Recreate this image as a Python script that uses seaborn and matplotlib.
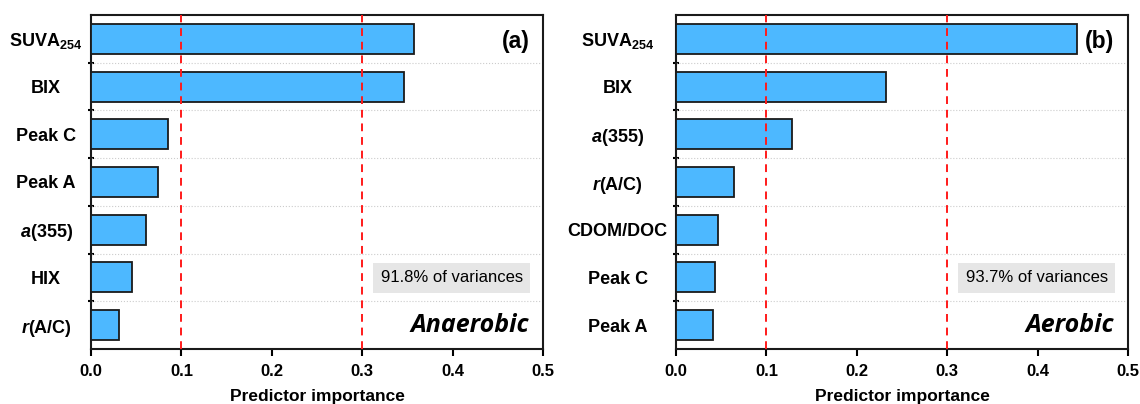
import matplotlib
matplotlib.use("Agg")
import matplotlib.pyplot as plt
import pandas as pd
import seaborn as sns

# panel (a) - anaerobic
labels_a = [r'SUVA$_{254}$', 'BIX', 'Peak C', 'Peak A', r'$\mathit{a}$(355)', 'HIX', r'$\mathit{r}$(A/C)']
values_a = [0.357, 0.346, 0.085, 0.074, 0.061, 0.045, 0.031]

# panel (b) - aerobic
labels_b = [r'SUVA$_{254}$', 'BIX', r'$\mathit{a}$(355)', r'$\mathit{r}$(A/C)', 'CDOM/DOC', 'Peak C', 'Peak A']
values_b = [0.444, 0.232, 0.128, 0.064, 0.046, 0.043, 0.041]

panels = [
    ('(a)', 'Anaerobic', '91.8% of variances', labels_a, values_a),
    ('(b)', 'Aerobic', '93.7% of variances', labels_b, values_b),
]
xticks = [0.0, 0.1, 0.2, 0.3, 0.4, 0.5]
cutoffs = [0.1, 0.3]

sns.set_theme(style="ticks")
plt.rcParams['font.family'] = ['Liberation Sans', 'DejaVu Sans']
plt.rcParams['mathtext.fontset'] = 'custom'
plt.rcParams['mathtext.rm'] = 'Liberation Sans:bold'
plt.rcParams['mathtext.it'] = 'Liberation Sans:italic:bold'
plt.rcParams['mathtext.bf'] = 'Liberation Sans:bold'
for k in ['text.color', 'axes.labelcolor', 'xtick.color', 'ytick.color']:
    plt.rcParams[k] = 'black'

fig = plt.figure(figsize=(11.4, 4.04), dpi=100)
lefts = [91 / 1140, 676 / 1140]
axes = []

for left, (tag, cond, note, labels, values) in zip(lefts, panels):
    ax = fig.add_axes([left, 1 - 349 / 404, 452 / 1140, 334 / 404])
    axes.append(ax)
    df = pd.DataFrame({'var': labels, 'imp': values})
    sns.barplot(data=df, y='var', x='imp', orient='h', ax=ax,
                color='#4DB8FF', saturation=1, edgecolor='#1a1a1a',
                linewidth=1.3, width=0.63, zorder=3)
    n = len(labels)
    for c in cutoffs:
        ax.axvline(c, color='#ff1a1a', ls=(0, (4, 3)), lw=1.4, zorder=4)
    for k in range(1, n):
        ax.axhline(k - 0.5, color='#cccccc', ls=':', lw=0.8, zorder=1)
    ax.set_xlim(0, 0.5)
    ax.set_ylim(n - 0.5, -0.5)
    ax.set_xticks(xticks)
    ax.set_xticklabels([f'{t:.1f}' for t in xticks], fontsize=12, fontweight='bold')
    ax.set_yticks(range(n))
    ax.set_yticklabels(labels, fontsize=13, fontweight='bold')
    ax.tick_params(axis='y', which='major', length=0, pad=7)
    ax.set_yticks([k - 0.5 for k in range(1, n)], minor=True)
    ax.tick_params(axis='y', which='minor', length=5, width=1.5, direction='inout')
    ax.tick_params(axis='x', length=5, width=1.5, direction='out', pad=6)
    for s in ax.spines.values():
        s.set_linewidth(1.5)
        s.set_color('#1a1a1a')
    ax.set_ylabel('')
    ax.set_xlabel('Predictor importance', fontsize=12.5, fontweight='bold', labelpad=7)
    ax.text(0.97, 0.92, tag, transform=ax.transAxes, ha='right', va='center',
            fontsize=16.5, fontweight='bold')
    ax.text(0.955, 0.213, note, transform=ax.transAxes, ha='right', va='center',
            fontsize=12, zorder=5,
            bbox=dict(boxstyle='square,pad=0.45', fc='#e6e6e6', ec='none'))
    ax.text(0.97, 0.07, cond, transform=ax.transAxes, ha='right', va='center',
            fontsize=18, fontweight='bold', fontstyle='italic',
            family=['Open Sans', 'DejaVu Sans'])

# centre the category labels in the space left of each axis
fig.canvas.draw()
renderer = fig.canvas.get_renderer()
for ax in axes:
    tls = ax.get_yticklabels()
    maxw = max(t.get_window_extent(renderer).width for t in tls)
    for t in tls:
        t.set_ha('center')
    ax.tick_params(axis='y', which='major', pad=6 + maxw / 2 * 72 / fig.dpi)

fig.savefig('out.png', dpi=100)
